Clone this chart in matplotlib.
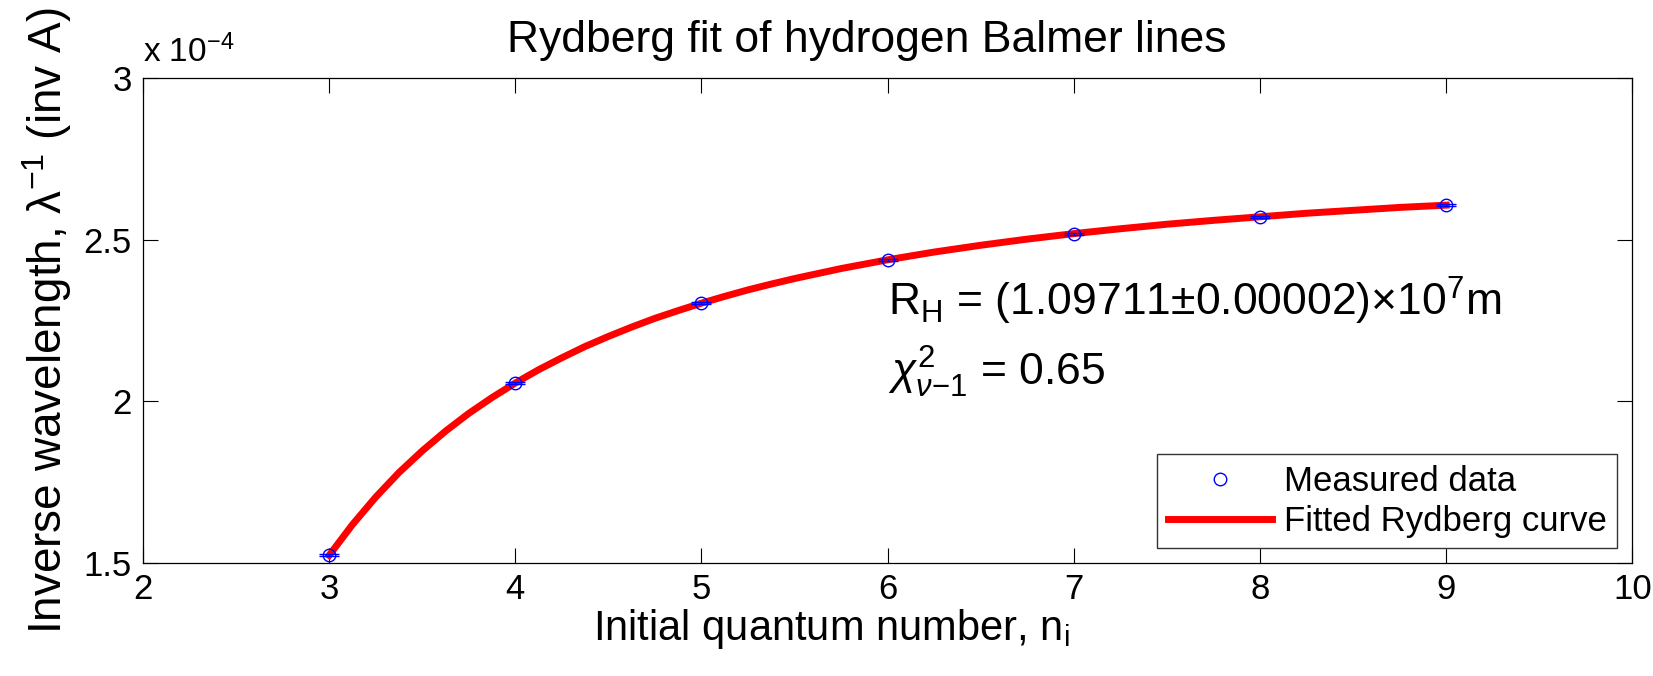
import matplotlib
matplotlib.use('Agg')
import matplotlib.pyplot as plt
from matplotlib.ticker import FuncFormatter

plt.rcParams['font.family'] = ['Liberation Sans', 'DejaVu Sans']
plt.rcParams['mathtext.fontset'] = 'custom'
plt.rcParams['mathtext.rm'] = 'Liberation Sans'
plt.rcParams['mathtext.it'] = 'Liberation Sans:italic'
plt.rcParams['mathtext.bf'] = 'Liberation Sans:bold'

# Measured Balmer lines (inverse Angstrom)
n_measured = [3, 4, 5, 6, 7, 8, 9]
inv_wavelength = [1.524e-4, 2.057e-4, 2.304e-4, 2.438e-4, 2.519e-4, 2.571e-4, 2.607e-4]
inv_wavelength_err = [3e-7, 3e-7, 3e-7, 3e-7, 3e-7, 3e-7, 3e-7]

# Fitted curve
n_fit = [3.0, 3.125, 3.25, 3.375, 3.5, 3.625, 3.75, 3.875, 4.0, 4.125, 4.25,
         4.375, 4.5, 4.625, 4.75, 4.875, 5.0, 5.125, 5.25, 5.375, 5.5, 5.75,
         6.0, 6.25, 6.5, 6.75, 7.0, 7.25, 7.5, 7.75, 8.0, 8.25, 8.5, 8.75, 9.0]
inv_wavelength_fit = [1.524e-4, 1.619e-4, 1.704e-4, 1.780e-4, 1.847e-4, 1.908e-4,
                      1.963e-4, 2.012e-4, 2.057e-4, 2.098e-4, 2.135e-4, 2.170e-4,
                      2.201e-4, 2.230e-4, 2.257e-4, 2.281e-4, 2.304e-4, 2.325e-4,
                      2.345e-4, 2.363e-4, 2.380e-4, 2.411e-4, 2.438e-4, 2.462e-4,
                      2.483e-4, 2.502e-4, 2.519e-4, 2.534e-4, 2.548e-4, 2.560e-4,
                      2.571e-4, 2.582e-4, 2.591e-4, 2.600e-4, 2.607e-4]

x_ticks = [2, 3, 4, 5, 6, 7, 8, 9, 10]
y_ticks = [1.5e-4, 2.0e-4, 2.5e-4, 3.0e-4]

fig = plt.figure(figsize=(16.53, 6.76), dpi=100)
ax = fig.add_axes([0.0865, 0.167, 0.901, 0.7175])

# error bars (tiny in y) drawn without a legend entry
ax.errorbar(n_measured, inv_wavelength, yerr=inv_wavelength_err, fmt='none',
            ecolor='blue', elinewidth=1.0, capsize=7, capthick=1.0, zorder=3)
meas, = ax.plot(n_measured, inv_wavelength, 'o', color='blue', mfc='none',
                ms=9, mew=1.0, label='Measured data', zorder=4)
fit, = ax.plot(n_fit, inv_wavelength_fit, color='red', linewidth=5,
               solid_joinstyle='round', label='Fitted Rydberg curve', zorder=2)

ax.set_xlim(2, 10)
ax.set_ylim(1.5e-4, 3e-4)
ax.set_xticks(x_ticks)
ax.set_yticks(y_ticks)
ax.yaxis.set_major_formatter(FuncFormatter(lambda v, p: f'{v / 1e-4:g}'))
ax.tick_params(direction='in', length=11, width=0.8, top=True, right=True,
               labelsize=25, colors='black')
ax.tick_params(axis='x', pad=7)
ax.tick_params(axis='y', pad=8)
for s in ax.spines.values():
    s.set_linewidth(0.9)
    s.set_color('black')

ax.text(0.0, 1.033, r'x 10$^{-4}$', transform=ax.transAxes, fontsize=24,
        ha='left', va='baseline')

ax.set_title('Rydberg fit of hydrogen Balmer lines', fontsize=32, pad=19, x=0.486)
ax.set_xlabel(r'Initial quantum number, n$_{\rm i}$', fontsize=30)
ax.xaxis.set_label_coords(0.462, -0.09)
ax.set_ylabel(r'Inverse wavelength, $\mathrm{\lambda}^{-1}$ (inv A)', fontsize=33)
ax.yaxis.set_label_coords(-0.046, 0.5)

ax.text(6.0, 2.264e-4, r'R$_{\rm H}$ = (1.09711$\pm$0.00002)$\times$10$^{7}$m',
        fontsize=32)
ax.text(6.0, 2.05e-4, r'$\chi^{2}_{\nu\rm{-1}}$ = 0.65', fontsize=32)

leg = ax.legend(handles=[meas, fit], loc='lower right',
                bbox_to_anchor=(0.990, 0.031), fontsize=25,
                fancybox=False, edgecolor='#333333', framealpha=1,
                borderaxespad=0, handlelength=3.0, borderpad=0.3,
                labelspacing=0.2, handletextpad=0.35)
leg.get_frame().set_linewidth(1.0)

fig.savefig('out.png', dpi=100)
